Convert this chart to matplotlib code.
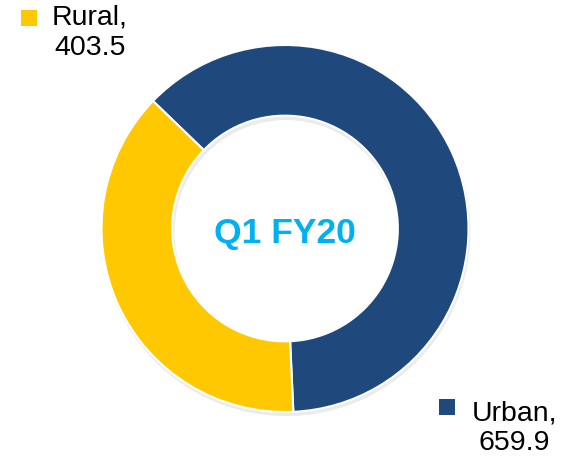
import matplotlib.pyplot as plt

# share of sales, Q1 FY20
labels = ['Urban', 'Rural']
values = [659.9, 403.5]
colors = ['#1F497D', '#FFC800']

plt.rcParams['font.family'] = ['Liberation Sans', 'DejaVu Sans']

fig = plt.figure(figsize=(5.68, 4.57), dpi=100)
ax = fig.add_axes([0, 0, 1, 1])

cx, cy, r = 285, 228.5, 183.5
ring = 0.385

# soft shadow under the ring
ax.pie([1], radius=r + 1, center=(cx + 1, cy - 3), colors=['#ebebeb'],
       wedgeprops=dict(width=(r + 1) * ring + 2, linewidth=0), frame=True)

ax.pie(values, radius=r, center=(cx, cy), colors=colors, startangle=136,
       counterclock=False, frame=True,
       wedgeprops=dict(width=r * ring, edgecolor='white', linewidth=1.5))
ax.set_xlim(0, 568)
ax.set_ylim(0, 457)
ax.set_aspect('equal')
ax.axis('off')

ax.text(cx, 457 - 234, 'Q1 FY20', color='#00B0F0', fontsize=25.5,
        fontweight='bold', ha='center', va='center')

# legend-style labels
ax.scatter([29], [457 - 17.5], marker='s', s=120, color=colors[1], linewidths=0)
ax.text(90, 457 - 5, f'{labels[1]},\n{values[1]}', fontsize=20.5, ha='center',
        va='top', multialignment='center', linespacing=1.22)

ax.scatter([447], [457 - 406.5], marker='s', s=120, color=colors[0], linewidths=0)
ax.text(514.5, 457 - 400.5, f'{labels[0]},\n{values[0]}', fontsize=20.5, ha='center',
        va='top', multialignment='center', linespacing=1.2)

plt.savefig('out.png', dpi=100)
plt.close()
